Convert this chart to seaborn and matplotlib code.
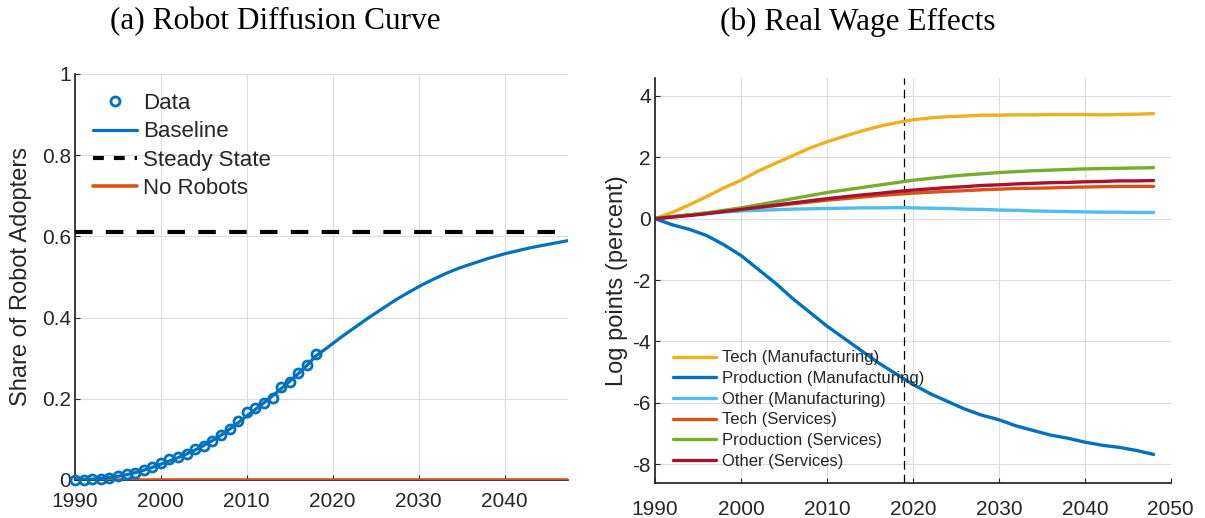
import numpy as np
import pandas as pd
import matplotlib
matplotlib.use("Agg")
import matplotlib.pyplot as plt
import seaborn as sns
from matplotlib.lines import Line2D

# ---- panel (a): robot diffusion ----
data_years = list(range(1990, 2019))
data_share = [0.000, 0.000, 0.002, 0.003, 0.006, 0.010, 0.014, 0.018, 0.025, 0.033,
              0.041, 0.051, 0.056, 0.064, 0.076, 0.084, 0.096, 0.110, 0.126, 0.146,
              0.167, 0.177, 0.189, 0.203, 0.228, 0.241, 0.263, 0.284, 0.310]

base_years = list(range(1990, 2049))
base_share = [0.000, 0.001, 0.002, 0.004, 0.006, 0.009, 0.013, 0.018, 0.024, 0.031,
              0.039, 0.047, 0.055, 0.064, 0.074, 0.085, 0.097, 0.110, 0.125, 0.141,
              0.158, 0.174, 0.190, 0.207, 0.225, 0.243, 0.262, 0.282, 0.305, 0.320,
              0.336, 0.352, 0.367, 0.382, 0.397, 0.411, 0.425, 0.439, 0.452, 0.464,
              0.476, 0.487, 0.497, 0.507, 0.516, 0.524, 0.531, 0.538, 0.545, 0.551,
              0.557, 0.562, 0.567, 0.572, 0.576, 0.580, 0.584, 0.588, 0.592]
steady_state = 0.61

# ---- panel (b): real wage effects ----
wage_years = [1990, 1992, 1994, 1996, 1998, 2000, 2002, 2004, 2006, 2008, 2010, 2012,
              2014, 2016, 2018, 2020, 2022, 2024, 2026, 2028, 2030, 2032, 2034, 2036,
              2038, 2040, 2042, 2044, 2046, 2048]
tech_manuf = [0.00, 0.20, 0.45, 0.72, 1.00, 1.25, 1.55, 1.80, 2.05, 2.30, 2.50, 2.68,
              2.85, 3.00, 3.12, 3.22, 3.28, 3.32, 3.34, 3.37, 3.37, 3.38, 3.38, 3.39,
              3.39, 3.39, 3.38, 3.39, 3.40, 3.42]
prod_manuf = [0.00, -0.20, -0.35, -0.55, -0.85, -1.20, -1.65, -2.10, -2.60, -3.05, -3.50, -3.90,
              -4.30, -4.70, -5.05, -5.40, -5.70, -5.95, -6.20, -6.40, -6.55, -6.75, -6.90, -7.05,
              -7.15, -7.28, -7.38, -7.45, -7.55, -7.68]
other_manuf = [0.00, 0.07, 0.12, 0.17, 0.21, 0.25, 0.27, 0.29, 0.31, 0.32, 0.33, 0.34,
               0.35, 0.35, 0.36, 0.35, 0.34, 0.33, 0.31, 0.30, 0.28, 0.27, 0.25, 0.24,
               0.23, 0.22, 0.21, 0.21, 0.20, 0.20]
tech_serv = [0.00, 0.06, 0.12, 0.18, 0.24, 0.30, 0.36, 0.42, 0.48, 0.54, 0.60, 0.65,
             0.70, 0.75, 0.79, 0.83, 0.86, 0.89, 0.91, 0.94, 0.96, 0.98, 0.99, 1.00,
             1.02, 1.03, 1.04, 1.05, 1.05, 1.05]
prod_serv = [0.00, 0.06, 0.12, 0.19, 0.27, 0.35, 0.45, 0.55, 0.65, 0.75, 0.85, 0.93,
             1.01, 1.09, 1.17, 1.25, 1.31, 1.37, 1.42, 1.46, 1.50, 1.53, 1.56, 1.58,
             1.60, 1.62, 1.63, 1.64, 1.65, 1.66]
other_serv = [0.00, 0.05, 0.10, 0.16, 0.23, 0.30, 0.37, 0.44, 0.51, 0.58, 0.65, 0.71,
              0.77, 0.82, 0.88, 0.93, 0.97, 1.01, 1.04, 1.08, 1.10, 1.13, 1.15, 1.17,
              1.18, 1.20, 1.21, 1.23, 1.23, 1.24]
calibration_year = 2019

series_labels = ["Tech (Manufacturing)", "Production (Manufacturing)", "Other (Manufacturing)",
                 "Tech (Services)", "Production (Services)", "Other (Services)"]
series_values = [tech_manuf, prod_manuf, other_manuf, tech_serv, prod_serv, other_serv]
series_colors = ["#EDB120", "#0072BD", "#4DBEEE", "#D95319", "#77AC30", "#A2142F"]

sns.set_theme(style="white")
plt.rcParams["font.family"] = ["Liberation Sans", "DejaVu Sans"]
ink = "#262626"
plt.rcParams.update({
    "text.color": ink, "axes.labelcolor": ink, "xtick.color": ink, "ytick.color": ink,
    "axes.edgecolor": ink, "xtick.direction": "in", "ytick.direction": "in",
    "xtick.major.size": 3.5, "ytick.major.size": 3.5,
    "xtick.major.width": 0.8, "ytick.major.width": 0.8,
    "xtick.bottom": True, "ytick.left": True,
    "axes.unicode_minus": False,
})

fig = plt.figure(figsize=(12.05, 5.18), dpi=100)
ax1 = fig.add_axes([0.0622, 0.0734, 0.4089, 0.7838])
ax2 = fig.add_axes([0.5436, 0.0676, 0.4280, 0.7824])

grid_kw = dict(color="#dcdcdc", linewidth=0.8)

# panel (a)
base_df = pd.DataFrame({"year": base_years, "share": base_share})
data_df = pd.DataFrame({"year": data_years, "share": data_share})
ax1.axhline(steady_state, color="black", lw=3.0, dashes=(4.2, 3.2), zorder=3)
ax1.plot([base_years[0], base_years[-1]], [0, 0], color="#D95319", lw=2.6, zorder=3)
sns.lineplot(data=base_df, x="year", y="share", ax=ax1, color="#0072BD", lw=2.3, zorder=4)
ax1.plot(data_df["year"], data_df["share"], ls="none", marker="o", ms=6.5,
         mfc="none", mec="#0072BD", mew=2.0, zorder=5, clip_on=False)
ax1.set_xlim(1990, 2047.35)
ax1.set_ylim(0, 1)
ax1.set_xticks(range(1990, 2041, 10))
ax1.set_yticks([0, 0.2, 0.4, 0.6, 0.8, 1])
ax1.set_yticklabels(["0", "0.2", "0.4", "0.6", "0.8", "1"])
ax1.grid(True, **grid_kw)
ax1.set_axisbelow(True)
for s in ["top", "right"]:
    ax1.spines[s].set_visible(False)
ax1.set_xlabel("")
ax1.set_ylabel("Share of Robot Adopters", fontsize=17, labelpad=7)
ax1.tick_params(labelsize=15, pad=3)
ax1.tick_params(axis="x", pad=9)

handles1 = [
    Line2D([], [], ls="none", marker="o", ms=6.5, mfc="none", mec="#0072BD", mew=2.0),
    Line2D([], [], color="#0072BD", lw=2.3),
    Line2D([], [], color="black", lw=3.0, dashes=(2.6, 2.4)),
    Line2D([], [], color="#D95319", lw=2.6),
]
ax1.legend(handles1, ["Data", "Baseline", "Steady State", "No Robots"], loc="upper left",
           bbox_to_anchor=(0.036, 0.953), frameon=False, fontsize=16, borderpad=0,
           borderaxespad=0, handlelength=2.0, handletextpad=0.25, labelspacing=0.33)

# panel (b)
wage_df = pd.DataFrame({
    "year": np.tile(wage_years, len(series_labels)),
    "value": np.concatenate(series_values),
    "group": np.repeat(series_labels, len(wage_years)),
})
sns.lineplot(data=wage_df, x="year", y="value", hue="group", hue_order=series_labels,
             palette=dict(zip(series_labels, series_colors)), lw=2.4, ax=ax2, legend=False)
ax2.axvline(calibration_year, color="black", lw=0.9, dashes=(7, 4), zorder=1)
ax2.set_xlim(1990, 2050)
ax2.set_ylim(-8.61, 4.59)
ax2.set_xticks(range(1990, 2051, 10))
ax2.set_yticks([-8, -6, -4, -2, 0, 2, 4])
ax2.grid(True, **grid_kw)
ax2.set_axisbelow(True)
for s in ["top", "right"]:
    ax2.spines[s].set_visible(False)
ax2.set_xlabel("")
ax2.set_ylabel("Log points (percent)", fontsize=17, labelpad=3)
ax2.tick_params(labelsize=15, pad=3)
ax2.tick_params(axis="x", pad=12)

handles2 = [Line2D([], [], color=c, lw=2.4) for c in series_colors]
ax2.legend(handles2, series_labels, loc="lower left", bbox_to_anchor=(0.035, 0.035),
           frameon=False, fontsize=12, borderpad=0, borderaxespad=0, handlelength=2.6,
           handletextpad=0.35, labelspacing=0.34)

title_kw = dict(fontsize=22.5, family=["Liberation Serif", "DejaVu Serif"], color="black",
                ha="center", va="center")
fig.text(275 / 1205, 1 - 22 / 518, "(a) Robot Diffusion Curve", **title_kw)
fig.text(858 / 1205, 1 - 22 / 518, "(b) Real Wage Effects", **title_kw)

fig.savefig("out.png", dpi=100)
